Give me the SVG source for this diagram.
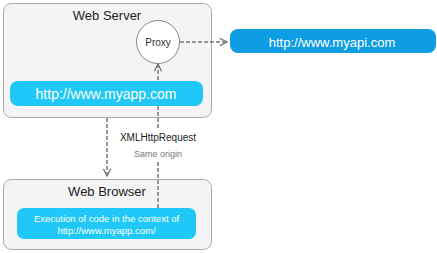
<svg xmlns="http://www.w3.org/2000/svg" width="437" height="253" viewBox="0 0 437 253">
<style>
text{font-family:"Liberation Sans",Arial,sans-serif}
.box{fill:#f4f4f4;stroke:#a8a8a8;stroke-width:1}
.title{font-size:13px;fill:#222;text-anchor:middle}
.bar{fill:#1fc8f6}
.api{fill:#0e9ce3}
.wt{fill:#fff;text-anchor:middle}
.dash{stroke:#777;stroke-width:1.5;stroke-dasharray:4 2;fill:none}
</style>
<defs>
<marker id="arr" viewBox="0 0 10 10" refX="9" refY="5" markerWidth="9" markerHeight="9" markerUnits="userSpaceOnUse" orient="auto">
<path d="M1,1 L9,5 L1,9" fill="none" stroke="#777" stroke-width="1.5"/>
</marker>
</defs>
<g id="web-server">
<rect class="box" x="3.5" y="3.5" width="208" height="114" rx="8"/>
<text class="title" x="107" y="20">Web Server</text>
</g>
<g id="web-browser">
<rect class="box" x="3.5" y="179.5" width="208" height="70" rx="8"/>
<text class="title" x="107" y="196">Web Browser</text>
</g>
<g id="connectors">
<path class="dash" d="M158,208 V162"/>
<path class="dash" d="M158,128 V64" marker-end="url(#arr)"/>
<path class="dash" d="M107,118 V176" marker-end="url(#arr)"/>
<path class="dash" d="M180,42 H227" marker-end="url(#arr)"/>
<text x="158" y="141" font-size="10" fill="#222" text-anchor="middle">XMLHttpRequest</text>
<text x="158" y="157" font-size="9" fill="#777" text-anchor="middle">Same origin</text>
</g>
<g id="proxy">
<circle cx="158" cy="42" r="21.5" fill="#fff" stroke="#888" stroke-width="1"/>
<text x="158" y="46" font-size="10" fill="#333" text-anchor="middle">Proxy</text>
</g>
<g id="myapp">
<rect class="bar" x="10" y="81" width="193" height="25" rx="8"/>
<text class="wt" x="106" y="98.5" font-size="14">http://www.myapp.com</text>
</g>
<g id="myapi">
<rect class="api" x="230" y="29" width="206" height="24" rx="8"/>
<text class="wt" x="332" y="46.5" font-size="13">http://www.myapi.com</text>
</g>
<g id="execution">
<rect class="bar" x="17" y="208" width="179" height="31" rx="7"/>
<text class="wt" x="106.5" y="222" font-size="9.5">Execution of code in the context of</text>
<text class="wt" x="106.5" y="234" font-size="9.5">http://www.myapp.com/</text>
</g>
</svg>
